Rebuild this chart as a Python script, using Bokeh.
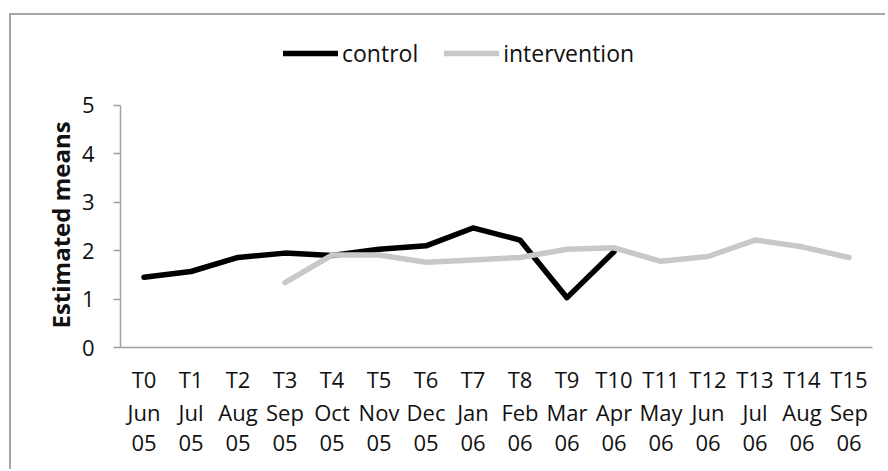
from bokeh.plotting import figure
from bokeh.models import (ColumnDataSource, CategoricalAxis, Legend, LegendItem,
                          FactorRange, Range1d, FixedTicker, CustomJSTickFormatter, Title)
from bokeh.embed import file_html
from bokeh.resources import INLINE

time_points = ["T0", "T1", "T2", "T3", "T4", "T5", "T6", "T7", "T8", "T9",
               "T10", "T11", "T12", "T13", "T14", "T15"]
months = ["Jun", "Jul", "Aug", "Sep", "Oct", "Nov", "Dec", "Jan", "Feb", "Mar",
          "Apr", "May", "Jun", "Jul", "Aug", "Sep"]
years = ["05", "05", "05", "05", "05", "05", "05", "06", "06", "06",
         "06", "06", "06", "06", "06", "06"]

control_x = ["T0", "T1", "T2", "T3", "T4", "T5", "T6", "T7", "T8", "T9", "T10"]
control_values = [1.45, 1.57, 1.86, 1.95, 1.90, 2.03, 2.10, 2.47, 2.22, 1.03, 1.98]

intervention_x = ["T3", "T4", "T5", "T6", "T7", "T8", "T9", "T10", "T11", "T12",
                  "T13", "T14", "T15"]
intervention_values = [1.34, 1.91, 1.91, 1.76, 1.81, 1.86, 2.03, 2.06, 1.78, 1.88,
                       2.22, 2.08, 1.86]

y_ticks = [0, 1, 2, 3, 4, 5]
y_axis_max = 5

FONT = "Open Sans"
FS = "22px"
TXT = "#111111"
AXC = "#a0a0a0"

# frame extends above the y axis to hold the legend; axis line is bounded to 0..5
p = figure(x_range=FactorRange(factors=time_points), y_range=Range1d(0, 6.446),
           width=876, height=456, output_backend="svg", toolbar_location=None,
           min_border_left=109, min_border_right=15, min_border_top=20,
           min_border_bottom=124)
p.styles = {"border-left": "2px solid #a6a6a6", "border-top": "2px solid #a6a6a6",
            "margin-top": "13px", "margin-left": "9px"}
p.x_range.range_padding = 0
p.grid.visible = False
p.outline_line_color = None
p.background_fill_color = "white"
p.border_fill_color = "white"

src_c = ColumnDataSource(dict(x=control_x, y=control_values))
src_i = ColumnDataSource(dict(x=intervention_x, y=intervention_values))
r_c = p.line("x", "y", source=src_c, line_color="black", line_width=5.5,
             line_join="round", line_cap="round")
r_i = p.line("x", "y", source=src_i, line_color="#c8c8c8", line_width=5.5,
             line_join="round", line_cap="round")

# y axis
ya = p.yaxis[0]
ya.ticker = FixedTicker(ticks=y_ticks)
ya.bounds = (0, y_axis_max)
ya.minor_tick_line_color = None
ya.major_tick_in = 0
ya.major_tick_out = 7
ya.major_tick_line_color = AXC
ya.major_tick_line_width = 1.5
ya.axis_line_color = AXC
ya.axis_line_width = 1.5
ya.major_label_text_font = FONT
ya.major_label_text_font_size = FS
ya.major_label_text_color = TXT
ya.major_label_standoff = 19

ytitle = Title(text="Estimated means", align="left", offset=19, standoff=4,
               text_font=FONT, text_font_size="24px", text_font_style="bold",
               text_color=TXT)
p.add_layout(ytitle, "left")

# x axes (three rows)
xa = p.xaxis[0]
xa.axis_line_color = AXC
xa.axis_line_width = 1.5
xa.major_tick_line_color = None
xa.major_tick_out = 0
xa.major_tick_in = 0
xa.major_label_text_font = FONT
xa.major_label_text_font_size = FS
xa.major_label_text_color = TXT
xa.major_label_standoff = 16

for labels, standoff in ((months, 0), (years, 5)):
    ax = CategoricalAxis()
    ax.formatter = CustomJSTickFormatter(args=dict(labels=labels),
                                         code="return labels[index];")
    ax.axis_line_color = None
    ax.major_tick_line_color = None
    ax.major_tick_out = 0
    ax.major_tick_in = 0
    ax.major_label_text_font = FONT
    ax.major_label_text_font_size = FS
    ax.major_label_text_color = TXT
    ax.major_label_standoff = standoff
    p.add_layout(ax, "below")

legend = Legend(items=[LegendItem(label="control", renderers=[r_c]),
                       LegendItem(label="intervention", renderers=[r_i])],
                location=(163, 278), orientation="horizontal",
                glyph_width=55, glyph_height=20, label_height=20,
                label_standoff=4, spacing=26, padding=0, margin=0,
                label_text_font=FONT, label_text_font_size="23px",
                label_text_color=TXT, background_fill_alpha=0,
                border_line_color=None)
p.add_layout(legend)

open("out.html", "w").write(file_html(p, INLINE))
